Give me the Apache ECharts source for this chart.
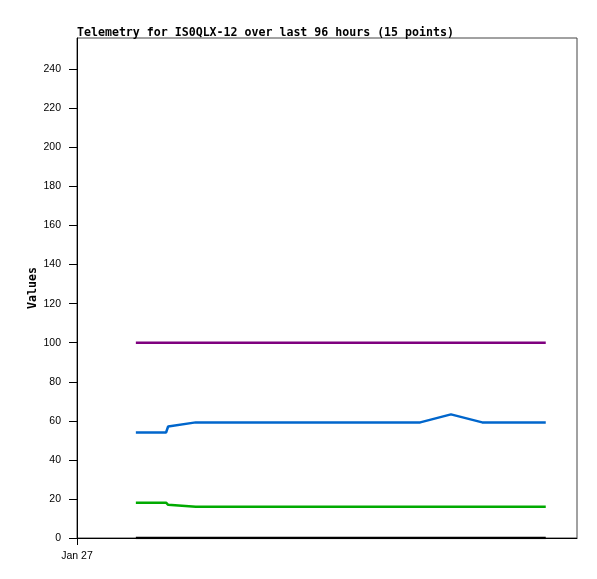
<!DOCTYPE html>
<html><head><meta charset="utf-8">
<script src="https://cdn.jsdelivr.net/npm/echarts@6/dist/echarts.min.js"></script>
<style>html,body{margin:0;padding:0;background:#fff}#c{width:597px;height:579px}</style>
</head><body><div id="c"></div>
<script>
// hours since Jan 27 00:00
const hours = [11.3, 17.1, 17.5, 22.8, 29.5, 37, 44.5, 51.5, 58.5, 65.9, 71.8, 77.8, 82, 86, 90];
const seriesBlue   = [54, 54, 57.1, 59.2, 59.2, 59.2, 59.2, 59.2, 59.2, 59.2, 63.3, 59.2, 59.2, 59.2, 59.2];
const seriesPurple = [100, 100, 100, 100, 100, 100, 100, 100, 100, 100, 100, 100, 100, 100, 100];
const seriesGreen  = [18.1, 18.1, 17.0, 16.0, 16.0, 16.0, 16.0, 16.0, 16.0, 16.0, 16.0, 16.0, 16.0, 16.0, 16.0];
const seriesBlack  = [0, 0, 0, 0, 0, 0, 0, 0, 0, 0, 0, 0, 0, 0, 0];
const xTickValues = [0];
const xTickLabels = ["Jan 27"];
const yTicks = [0, 20, 40, 60, 80, 100, 120, 140, 160, 180, 200, 220, 240];
const titleText = "Telemetry for IS0QLX-12 over last 96 hours (15 points)";

const pair = vals => hours.map((h, i) => [h, vals[i]]);
const mk = (name, vals, color, w) => ({
  name, type: 'line', data: pair(vals), symbol: 'none', animation: false,
  lineStyle: { color, width: w }, itemStyle: { color }
});

const chart = echarts.init(document.getElementById('c'), null, { renderer: 'canvas' });
chart.setOption({
  animation: false,
  backgroundColor: '#fff',
  title: {
    text: titleText, left: 72, top: 22,
    textStyle: { fontFamily: 'DejaVu Sans Mono', fontWeight: 'bold', fontSize: 11.6, color: '#000' }
  },
  grid: { left: 77, top: 38, width: 500, height: 500, show: true, borderColor: '#444', borderWidth: 1, backgroundColor: 'transparent' },
  xAxis: {
    type: 'value', min: 0, max: 96, interval: 96,
    axisLine: { show: true, lineStyle: { color: '#000', width: 1 } },
    axisTick: { show: true, length: 7, customValues: xTickValues, lineStyle: { color: '#000' } },
    axisLabel: {
      customValues: xTickValues, margin: 13,
      formatter: v => { const i = xTickValues.indexOf(v); return i >= 0 ? xTickLabels[i] : ''; },
      fontFamily: 'Liberation Sans', fontSize: 10.5, color: '#000'
    },
    splitLine: { show: false }
  },
  yAxis: {
    type: 'value', min: 0, max: 256,
    name: 'Values', nameLocation: 'middle', nameRotate: 90, nameGap: 38, nameMoveOverlap: false,
    nameTextStyle: { fontFamily: 'DejaVu Sans Mono', fontWeight: 'bold', fontSize: 11.6, color: '#000' },
    axisLine: { show: true, lineStyle: { color: '#000', width: 1 } },
    axisTick: { show: true, length: 8, customValues: yTicks, lineStyle: { color: '#000' } },
    axisLabel: { customValues: yTicks, margin: 16, fontFamily: 'Liberation Sans', fontSize: 10.5, color: '#000' },
    splitLine: { show: false }
  },
  series: [
    mk('black', seriesBlack, '#000000', 2.5),
    mk('green', seriesGreen, '#00aa00', 2.5),
    mk('blue', seriesBlue, '#0066cc', 2.5),
    mk('purple', seriesPurple, '#7f007f', 2.5)
  ]
});
</script></body></html>
